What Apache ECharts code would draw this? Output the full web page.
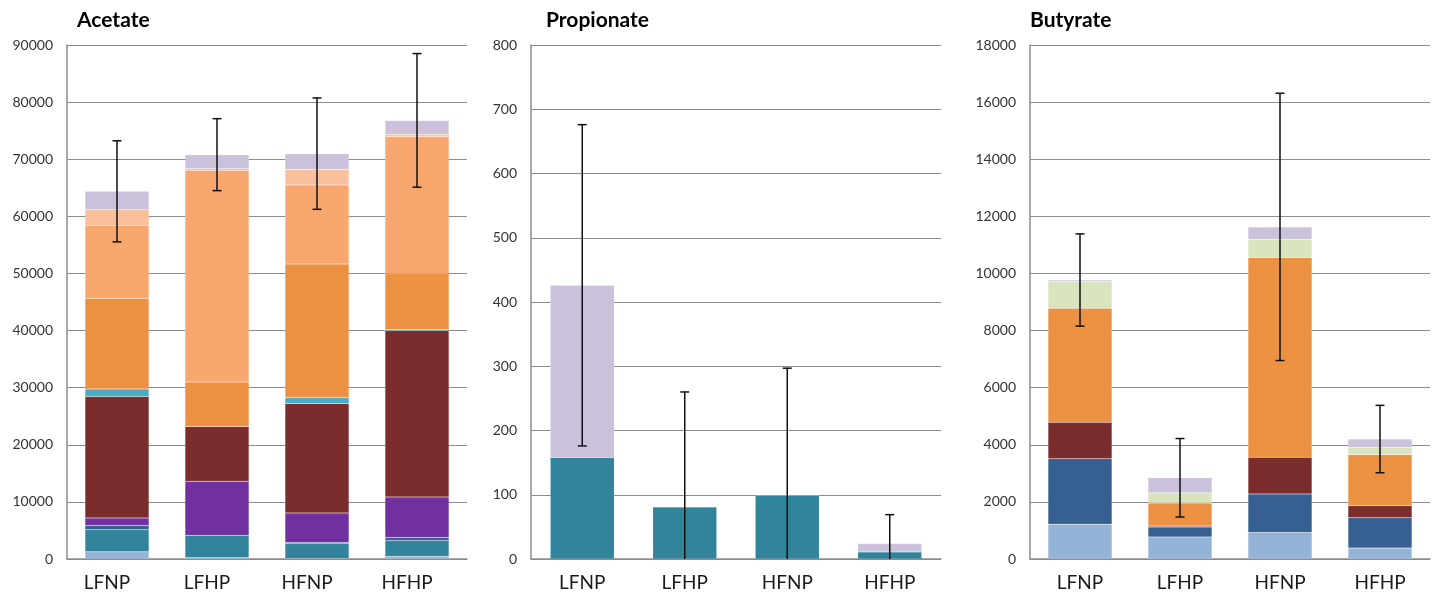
<!DOCTYPE html>
<html>
<head>
<meta charset="utf-8">
<script src="https://cdn.jsdelivr.net/npm/echarts@6/dist/echarts.min.js"></script>
<style>
  html, body { margin: 0; padding: 0; background: #ffffff; }
  #chart { width: 1432px; height: 594px; }
</style>
</head>
<body>
<div id="chart"></div>
<script>
// Sample groups shown on every panel
const categories = ['LFNP', 'LFHP', 'HFNP', 'HFHP'];

// Acetate: stacked components, bottom to top
const acetateLightBlue   = [1250, 200, 100, 450];
const acetateTeal        = [3880, 3930, 2580, 2750];
const acetateDarkBlue    = [750, 0, 220, 580];
const acetatePurple      = [1300, 9460, 5160, 7080];
const acetateDarkRed     = [21270, 9630, 19140, 29120];
const acetateCyan        = [1320, 0, 1100, 170];
const acetateOrange      = [15870, 7780, 23360, 9810];
const acetateLightOrange = [12780, 37050, 13840, 24040];
const acetatePaleOrange  = [2750, 300, 2680, 360];
const acetateLavender    = [3210, 2450, 2800, 2440];
const acetateError       = [8850, 6300, 9750, 11700];
const acetateTicks       = { min: 0, max: 90000, interval: 10000 };

// Propionate
const propionateTeal     = [158, 81, 99, 11];
const propionateLavender = [268, 0, 0, 13];
const propionateError    = [250, 179, 198, 45];
const propionateTicks    = { min: 0, max: 800, interval: 100 };

// Butyrate
const butyrateLightBlue  = [1220, 770, 930, 385];
const butyrateDarkBlue   = [2290, 350, 1350, 1060];
const butyrateDarkRed    = [1280, 35, 1285, 420];
const butyrateOrange     = [3990, 805, 6995, 1785];
const butyrateGreen      = [940, 360, 640, 255];
const butyrateLavender   = [50, 525, 430, 295];
const butyrateError      = [1615, 1374, 4680, 1180];
const butyrateTicks      = { min: 0, max: 18000, interval: 2000 };

// Fill colours for the stack components
const palette = {
  lightBlue: '#95b3d7',
  teal: '#31849b',
  darkBlue: '#366092',
  purple: '#7030a0',
  darkRed: '#7b2c2c',
  cyan: '#4bacc6',
  orange: '#ec9142',
  lightOrange: '#f8a76f',
  paleOrange: '#fabf9b',
  green: '#d7e4bd',
  lavender: '#ccc1da'
};

const FONT = 'Lato, "Open Sans", "Liberation Sans", sans-serif';

const panels = [
  {
    title: 'Acetate', left: 67, width: 400, titleLeft: 77, labelShift: 20, ticks: acetateTicks,
    layers: [
      ['lightBlue', acetateLightBlue], ['teal', acetateTeal], ['darkBlue', acetateDarkBlue],
      ['purple', acetatePurple], ['darkRed', acetateDarkRed], ['cyan', acetateCyan],
      ['orange', acetateOrange], ['lightOrange', acetateLightOrange],
      ['paleOrange', acetatePaleOrange], ['lavender', acetateLavender]
    ],
    error: acetateError
  },
  {
    title: 'Propionate', left: 531, width: 410, titleLeft: 546, labelShift: 0, ticks: propionateTicks,
    layers: [['teal', propionateTeal], ['lavender', propionateLavender]],
    error: propionateError
  },
  {
    title: 'Butyrate', left: 1030, width: 400, titleLeft: 1030, labelShift: 0, ticks: butyrateTicks,
    layers: [
      ['lightBlue', butyrateLightBlue], ['darkBlue', butyrateDarkBlue], ['darkRed', butyrateDarkRed],
      ['orange', butyrateOrange], ['green', butyrateGreen], ['lavender', butyrateLavender]
    ],
    error: butyrateError
  }
];

const grids = [], xAxes = [], yAxes = [], series = [], titles = [];

panels.forEach((p, i) => {
  grids.push({ left: p.left, width: p.width, top: 45, height: 514, containLabel: false });
  titles.push({
    text: p.title, left: p.titleLeft, top: 10, padding: 0,
    textStyle: { fontFamily: FONT, fontWeight: 'bold', fontSize: 21, color: '#000000' }
  });
  xAxes.push({
    type: 'category', gridIndex: i, data: categories,
    axisLine: { show: true, lineStyle: { color: '#8c8c8c', width: 1.5 } },
    axisTick: { show: false },
    axisLabel: {
      fontFamily: FONT, fontSize: 19, color: '#1a1a1a', margin: 14,
      padding: [0, p.labelShift, 0, 0]
    }
  });
  yAxes.push({
    type: 'value', gridIndex: i,
    min: p.ticks.min, max: p.ticks.max, interval: p.ticks.interval,
    axisLine: { show: true, lineStyle: { color: '#8c8c8c', width: 1.5 } },
    axisTick: { show: false },
    splitLine: { show: true, lineStyle: { color: '#8c8c8c', width: 1 } },
    axisLabel: {
      fontFamily: FONT, fontSize: 14, color: '#333333', margin: 14,
      formatter: v => String(v)
    }
  });

  p.layers.forEach(([key, values]) => {
    series.push({
      type: 'bar', name: p.title + ' ' + key,
      xAxisIndex: i, yAxisIndex: i, stack: 'stack' + i,
      barWidth: 64, data: values,
      itemStyle: { color: palette[key], borderColor: 'rgba(255,255,255,0.2)', borderWidth: 0.5 },
      emphasis: { disabled: true }, animation: false
    });
  });

  // Totals per group feed the error bars
  const totals = categories.map((_, c) =>
    p.layers.reduce((s, [, values]) => s + values[c], 0));

  series.push({
    type: 'custom', name: p.title + ' error',
    xAxisIndex: i, yAxisIndex: i, z: 10, animation: false,
    data: categories.map((_, c) => [c, totals[c], p.error[c]]),
    renderItem: (params, api) => {
      const x = api.value(0), mid = api.value(1), err = api.value(2);
      const top = api.coord([x, mid + err]);
      const bot = api.coord([x, Math.max(0, mid - err)]);
      const cap = 4.5;
      const style = { stroke: '#111111', lineWidth: 1.5 };
      const children = [
        { type: 'line', shape: { x1: top[0], y1: top[1], x2: bot[0], y2: bot[1] }, style }
      ];
      children.push({ type: 'line', shape: { x1: top[0] - cap, y1: top[1], x2: top[0] + cap, y2: top[1] }, style });
      if (mid - err > 0) {
        children.push({ type: 'line', shape: { x1: bot[0] - cap, y1: bot[1], x2: bot[0] + cap, y2: bot[1] }, style });
      }
      return { type: 'group', children };
    }
  });
});

const chart = echarts.init(document.getElementById('chart'), null, { renderer: 'canvas' });
chart.setOption({
  backgroundColor: '#ffffff',
  animation: false,
  title: titles,
  grid: grids,
  xAxis: xAxes,
  yAxis: yAxes,
  series: series
});
</script>
</body>
</html>
